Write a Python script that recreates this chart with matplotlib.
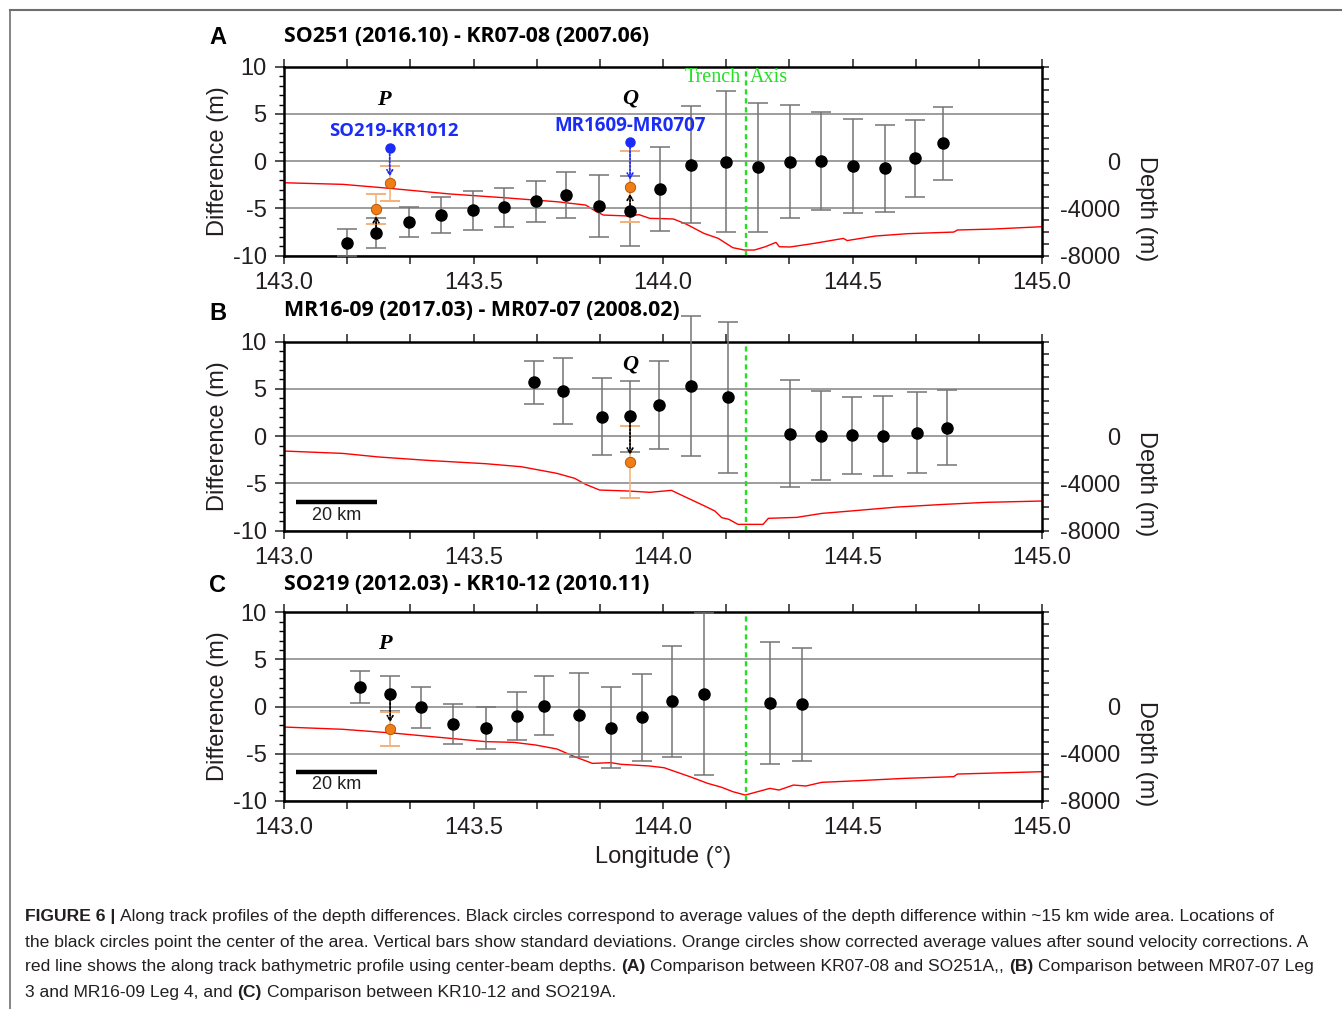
import numpy as np
import matplotlib
matplotlib.use("Agg")
import matplotlib.pyplot as plt
from matplotlib.lines import Line2D
from matplotlib.ticker import MultipleLocator

# ---------------- data ----------------
# Panel A: SO251 - KR07-08
a_lon = [143.167, 143.243, 143.331, 143.414, 143.499, 143.580, 143.666, 143.745, 143.831, 143.913,
         143.992, 144.075, 144.165, 144.250, 144.335, 144.416, 144.500, 144.586, 144.666, 144.739]
a_diff = [-8.62, -7.57, -6.44, -5.73, -5.20, -4.89, -4.22, -3.58, -4.74, -5.24,
          -2.95, -0.37, -0.05, -0.65, -0.05, 0.02, -0.51, -0.76, 0.30, 1.89]
a_std = [1.40, 1.59, 1.63, 1.90, 2.06, 2.03, 2.17, 2.45, 3.31, 3.72,
         4.41, 6.21, 7.48, 6.81, 5.95, 5.15, 5.01, 4.57, 4.08, 3.85]
a_orange_lon = [143.243, 143.279, 143.913]
a_orange_diff = [-5.06, -2.35, -2.70]
a_orange_std = [1.55, 1.83, 3.75]
a_blue_lon = [143.279, 143.913]
a_blue_diff = [1.36, 2.06]
a_bathy_lon = [143.000, 143.155, 143.278, 143.438, 143.579, 143.720, 143.796, 143.824, 143.843, 143.909,
               143.937, 143.965, 144.003, 144.028, 144.061, 144.108, 144.146, 144.184, 144.215, 144.241,
               144.270, 144.298, 144.307, 144.335, 144.400, 144.476, 144.486, 144.560, 144.645, 144.767,
               144.777, 144.871, 145.000]
a_bathy_depth = [-1824, -1960, -2296, -2776, -3088, -3432, -3712, -4272, -4560, -4640,
                 -4528, -4840, -4864, -4896, -5320, -6112, -6536, -7320, -7520, -7520,
                 -7240, -6872, -7240, -7264, -6952, -6536, -6720, -6336, -6136, -6000,
                 -5824, -5744, -5544]

# Panel B: MR16-09 - MR07-07
b_lon = [143.659, 143.736, 143.838, 143.913, 143.989, 144.073, 144.172, 144.335, 144.418, 144.499,
         144.580, 144.669, 144.750]
b_diff = [5.70, 4.74, 2.06, 2.13, 3.30, 5.31, 4.11, 0.26, 0.05, 0.09, 0.05, 0.37, 0.90]
b_std = [2.24, 3.50, 4.10, 3.76, 4.69, 7.40, 7.96, 5.66, 4.71, 4.05, 4.23, 4.30, 4.00]
b_orange_lon = [143.913]
b_orange_diff = [-2.70]
b_orange_std = [3.80]
b_bathy_lon = [143.000, 143.155, 143.250, 143.391, 143.532, 143.626, 143.720, 143.767, 143.796, 143.833,
               143.909, 143.965, 144.022, 144.061, 144.108, 144.137, 144.155, 144.174, 144.198, 144.264,
               144.278, 144.353, 144.419, 144.494, 144.617, 144.739, 144.852, 145.000]
b_bathy_depth = [-1256, -1456, -1760, -2072, -2328, -2584, -3144, -3568, -4080, -4560,
                 -4640, -4752, -4584, -5176, -5880, -6336, -6896, -7040, -7464, -7464,
                 -6952, -6872, -6536, -6336, -6000, -5776, -5600, -5488]

# Panel C: SO219 - KR10-12
c_lon = [143.200, 143.280, 143.361, 143.447, 143.532, 143.615, 143.687, 143.779, 143.863, 143.944,
         144.024, 144.109, 144.282, 144.367]
c_diff = [2.07, 1.36, -0.09, -1.89, -2.28, -1.01, 0.09, -0.90, -2.25, -1.15, 0.55, 1.36, 0.37, 0.23]
c_std = [1.65, 1.84, 2.18, 2.12, 2.20, 2.56, 3.10, 4.45, 4.30, 4.65, 5.90, 8.60, 6.45, 6.00]
c_orange_lon = [143.280]
c_orange_diff = [-2.42]
c_orange_std = [1.80]
c_bathy_lon = [143.000, 143.155, 143.296, 143.438, 143.532, 143.607, 143.664, 143.720, 143.767, 143.814,
               143.862, 143.890, 143.965, 144.003, 144.071, 144.118, 144.155, 144.184, 144.217, 144.250,
               144.282, 144.306, 144.344, 144.377, 144.419, 144.513, 144.636, 144.767, 144.777, 145.000]
c_bathy_depth = [-1744, -1936, -2280, -2704, -2984, -3048, -3272, -3608, -4264, -4832,
                 -4768, -4912, -5056, -5200, -5960, -6528, -6864, -7232, -7520, -7232,
                 -6952, -7096, -6672, -6752, -6440, -6304, -6104, -5960, -5736, -5536]

trench_lon = 144.218
titles = ["SO251 (2016.10) - KR07-08 (2007.06)",
          "MR16-09 (2017.03) - MR07-07 (2008.02)",
          "SO219 (2012.03) - KR10-12 (2010.11)"]
panel_letters = ["A", "B", "C"]
x_ticks = [143.0, 143.5, 144.0, 144.5, 145.0]
x_ticklabels = ["143.0", "143.5", "144.0", "144.5", "145.0"]
y_ticks = [-10, -5, 0, 5, 10]
y_ticklabels = ["-10", "-5", "0", "5", "10"]
depth_ticks = list(range(-8000, 8001, 1000))
depth_labeled = [-8000, -4000, 0]

# ---------------- layout ----------------
W, H = 1342, 1009
fig = plt.figure(figsize=(W / 100, H / 100), dpi=100)
fig.patch.set_facecolor("white")


def fx(px):
    return px / W


def fy(py):
    return 1 - py / H


TXT = "#231f20"
plt.rcParams["font.family"] = ["Liberation Sans", "DejaVu Sans"]

panel_px = [(66.7, 255.7), (341.7, 530.7), (612.3, 800.7)]
title_y = [36, 310, 585]
letter_y = [38, 313, 586]
XL, XR = 284, 1042

GRAY_EB = "#747474"
ORANGE = "#f07d16"
ORANGE_EB = "#f6b07a"
BLUE = "#1b2cf5"
GREEN = "#22e022"

axes = []
twins = []
for i, (top, bot) in enumerate(panel_px):
    ax = fig.add_axes([fx(XL), fy(bot), (XR - XL) / W, (bot - top) / H])
    ax2 = ax.twinx()
    ax.set_zorder(ax2.get_zorder() + 1)
    ax.patch.set_visible(False)
    ax.set_xlim(143, 145)
    ax.set_ylim(-10, 10)
    ax2.set_ylim(-8000, 8000)
    for sp in ax.spines.values():
        sp.set_linewidth(1.8)
    for sp in ax2.spines.values():
        sp.set_visible(False)
    # x ticks
    ax.set_xticks(x_ticks)
    ax.set_xticklabels(x_ticklabels)
    ax.xaxis.set_minor_locator(MultipleLocator(1 / 6))
    ax.tick_params(axis="x", which="both", direction="out", top=True, length=6, width=1.1,
                   pad=5.5, labelsize=17, colors=TXT)
    # y ticks
    ax.set_yticks(y_ticks)
    ax.set_yticklabels(y_ticklabels)
    ax.yaxis.set_minor_locator(MultipleLocator(1))
    ax.tick_params(axis="y", which="major", direction="out", length=6.5, width=1.1, pad=6,
                   labelsize=17, colors=TXT)
    ax.tick_params(axis="y", which="minor", direction="out", length=3.6, width=1.0)
    ax.grid(axis="y", which="major", color="#8c8c8c", lw=1.2, zorder=0)
    # right axis
    ax2.set_yticks(depth_ticks)
    ax2.set_yticklabels([str(v) if v in depth_labeled else "" for v in depth_ticks])
    ax2.tick_params(axis="y", direction="out", length=5, width=1.1, pad=51, labelsize=17,
                    colors=TXT)
    for t in ax2.get_yticklabels():
        t.set_horizontalalignment("right")
    ax2.text(1.137, 0.25, "Depth (m)", transform=ax2.transAxes, rotation=270, ha="center",
             va="center", fontsize=17, color=TXT)
    ax.text(-0.0877, 0.5, "Difference (m)", transform=ax.transAxes, rotation=90, ha="center",
            va="center", fontsize=17, color=TXT)
    ax.axvline(trench_lon, color=GREEN, ls=(0, (2.2, 1.6)), lw=1.7, zorder=2)
    fig.text(fx(XL), fy(title_y[i]), titles[i], fontsize=15.4, fontweight="bold",
             family=["Open Sans", "DejaVu Sans"], ha="left", va="center", color="black")
    fig.text(fx(218), fy(letter_y[i]), panel_letters[i], fontsize=17, fontweight="bold",
             ha="center", va="center", color="black")
    axes.append(ax)
    twins.append(ax2)


def draw_points(ax, lon, diff, std):
    eb = ax.errorbar(lon, diff, yerr=std, fmt="none", ecolor=GRAY_EB, elinewidth=1.1,
                     capsize=7, capthick=1.1, zorder=3)
    for art in list(eb.lines[1]) + list(eb.lines[2]):
        art.set_clip_on(False)
    ax.plot(lon, diff, "o", color="black", ms=8, zorder=6, clip_on=False)


def draw_orange(ax, lon, diff, std):
    eb = ax.errorbar(lon, diff, yerr=std, fmt="none", ecolor=ORANGE_EB, elinewidth=1.1,
                     capsize=7, capthick=1.4, zorder=4)
    for art in list(eb.lines[1]) + list(eb.lines[2]):
        art.set_clip_on(False)
    ax.plot(lon, diff, "o", mfc=ORANGE, mec="#a85000", mew=0.6, ms=7.5, zorder=7)


def arrow(ax, x, y0, y1, color):
    ax.annotate("", xy=(x, y1), xytext=(x, y0),
                arrowprops=dict(arrowstyle="->,head_length=0.35,head_width=0.2",
                                linestyle=(0, (1, 1)), color=color, lw=1.3,
                                shrinkA=4, shrinkB=5), zorder=5)


# ---- Panel A ----
ax = axes[0]
twins[0].plot(a_bathy_lon, a_bathy_depth, color="red", lw=1.0)
draw_points(ax, a_lon, a_diff, a_std)
draw_orange(ax, a_orange_lon, a_orange_diff, a_orange_std)
ax.plot(a_blue_lon, a_blue_diff, "o", color=BLUE, ms=6.5, zorder=7)
for xb, yb in zip(a_blue_lon, a_blue_diff):
    k = a_orange_lon.index(xb)
    arrow(ax, xb, yb, a_orange_diff[k], BLUE)
for xo, yo in zip(a_orange_lon, a_orange_diff):
    if xo in a_lon:
        arrow(ax, xo, a_diff[a_lon.index(xo)], yo, "black")
ax.text(143.264, 6.5, "P", fontsize=16, fontweight="bold", style="italic",
        family=["Liberation Serif"], ha="center", va="center")
ax.text(143.913, 6.6, "Q", fontsize=16, fontweight="bold", style="italic",
        family=["Liberation Serif"], ha="center", va="center")
ax.text(143.29, 3.2, "SO219-KR1012", fontsize=13.3, fontweight="bold", color=BLUE,
        family=["Open Sans", "DejaVu Sans"], ha="center", va="center")
ax.text(143.913, 3.75, "MR1609-MR0707", fontsize=13.5, fontweight="bold", color=BLUE,
        family=["Open Sans", "DejaVu Sans"], ha="center", va="center")
ax.text(trench_lon - 0.012, 8.85, "Trench", fontsize=14.5, color=GREEN,
        family=["Liberation Serif"], ha="right", va="center")
ax.text(trench_lon + 0.012, 8.85, "Axis", fontsize=14.5, color=GREEN,
        family=["Liberation Serif"], ha="left", va="center")

# ---- Panel B ----
ax = axes[1]
twins[1].plot(b_bathy_lon, b_bathy_depth, color="red", lw=1.0)
draw_points(ax, b_lon, b_diff, b_std)
draw_orange(ax, b_orange_lon, b_orange_diff, b_orange_std)
for xo, yo in zip(b_orange_lon, b_orange_diff):
    arrow(ax, xo, b_diff[b_lon.index(xo)], yo, "black")
ax.text(143.913, 7.6, "Q", fontsize=16, fontweight="bold", style="italic",
        family=["Liberation Serif"], ha="center", va="center")

# ---- Panel C ----
ax = axes[2]
twins[2].plot(c_bathy_lon, c_bathy_depth, color="red", lw=1.0)
draw_points(ax, c_lon, c_diff, c_std)
draw_orange(ax, c_orange_lon, c_orange_diff, c_orange_std)
for xo, yo in zip(c_orange_lon, c_orange_diff):
    arrow(ax, xo, c_diff[c_lon.index(xo)], yo, "black")
ax.text(143.266, 6.6, "P", fontsize=16, fontweight="bold", style="italic",
        family=["Liberation Serif"], ha="center", va="center")

# scale bars (20 km)
for ax, ybar in zip(axes[1:], [-7.0, -6.96]):
    ax.plot([143.031, 143.245], [ybar, ybar], color="black", lw=3.2, solid_capstyle="butt", zorder=6)
    ax.text(143.138, ybar - 1.35, "20 km", fontsize=13, ha="center", va="center", color=TXT)

axes[2].text(0.5, -0.30, "Longitude (°)", transform=axes[2].transAxes, fontsize=17,
             ha="center", va="center", color=TXT)

# frame lines
fig.add_artist(Line2D([fx(10), 1.0], [fy(10), fy(10)], color="#6e6e6e", lw=1.5))
fig.add_artist(Line2D([fx(10), fx(10)], [fy(10), 0.0], color="#6e6e6e", lw=1.2))

# ---------------- caption ----------------
CAPFAM = ["Liberation Sans Narrow", "Liberation Sans", "DejaVu Sans"]
CAPSIZE = 12.6
cap_lines = [
    [("FIGURE 6 |", True), ("Along track profiles of the depth differences. Black circles correspond to average values of the depth difference within ~15 km wide area. Locations of", False)],
    [("the black circles point the center of the area. Vertical bars show standard deviations. Orange circles show corrected average values after sound velocity corrections. A", False)],
    [("red line shows the along track bathymetric profile using center-beam depths.", False), ("(A)", True),
     ("Comparison between KR07-08 and SO251A,,", False), ("(B)", True), ("Comparison between MR07-07 Leg", False)],
    [("3 and MR16-09 Leg 4, and", False), ("(C)", True), ("Comparison between KR10-12 and SO219A.", False)],
]
cap_y = [916, 942, 967, 992]
renderer = fig.canvas.get_renderer()
probe1 = fig.text(0, 0, "x x", fontsize=CAPSIZE, family=CAPFAM)
probe2 = fig.text(0, 0, "xx", fontsize=CAPSIZE, family=CAPFAM)
space_px = probe1.get_window_extent(renderer).width - probe2.get_window_extent(renderer).width
probe1.remove()
probe2.remove()
for line, yy in zip(cap_lines, cap_y):
    xpx = 25
    for seg, bold in line:
        t = fig.text(fx(xpx), fy(yy), seg, fontsize=CAPSIZE, family=CAPFAM,
                     fontweight="bold" if bold else "normal", ha="left", va="center", color=TXT)
        w = t.get_window_extent(renderer).width
        xpx += w + space_px

fig.savefig("out.png", dpi=100)
